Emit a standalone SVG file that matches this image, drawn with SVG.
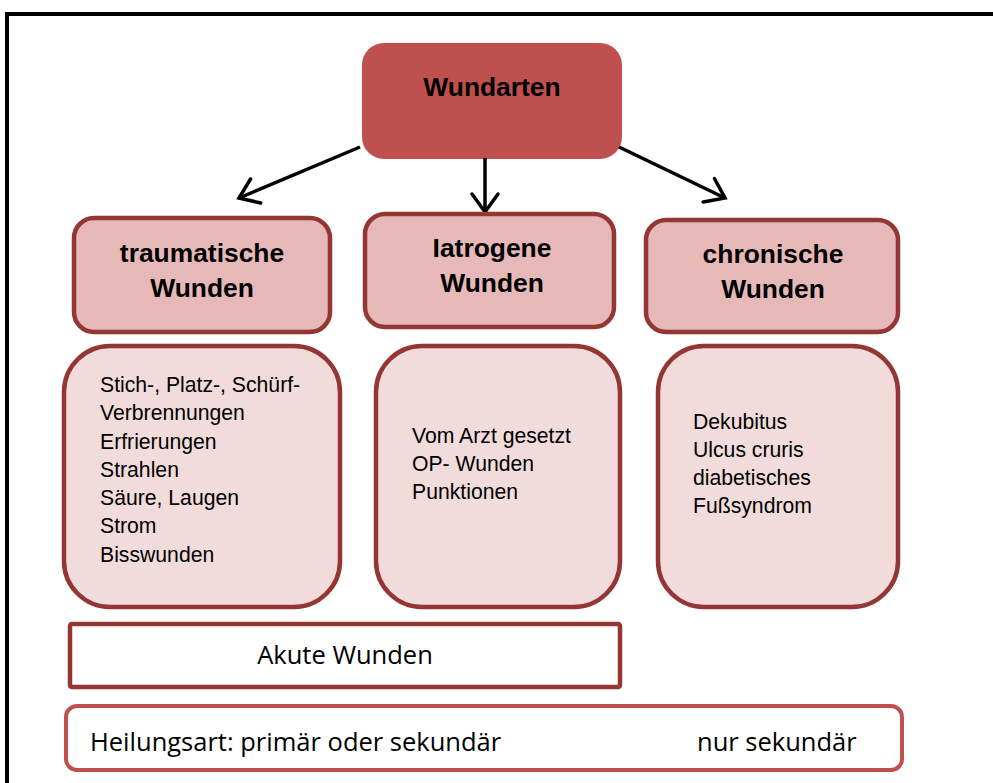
<svg xmlns="http://www.w3.org/2000/svg" width="993" height="783" viewBox="0 0 993 783">
<style>
.hdr{fill:#E6B9B8;stroke:#943634;stroke-width:4.5}
.lst{fill:#F2DCDB;stroke:#943634;stroke-width:4.5}
.bt{font-family:"Liberation Sans",Arial,sans-serif;font-weight:bold;font-size:26.4px;fill:#000;text-anchor:middle}
.rt{font-family:"Liberation Sans",Arial,sans-serif;font-size:21.2px;fill:#000}
.ct{font-family:"Open Sans","Noto Sans",sans-serif;font-size:25.5px;fill:#000}
.con{stroke:#000;stroke-width:3.5;fill:none}
</style>
<defs>
<marker id="ah" markerUnits="userSpaceOnUse" markerWidth="40" markerHeight="40" viewBox="-25 -20 40 40" refX="0" refY="0" orient="auto">
<path d="M-18,-13 L0,0 L-18,13" fill="none" stroke="#000" stroke-width="3.5" stroke-linecap="round" stroke-linejoin="miter"/>
</marker>
</defs>
<rect x="0" y="0" width="993" height="783" fill="#fff"/>
<rect id="frame" x="7" y="14" width="1000" height="800" fill="none" stroke="#000" stroke-width="4"/>

<g id="wundarten">
<rect x="362" y="43" width="260" height="116" rx="22" fill="#C0504D"/>
<text class="bt" x="492" y="96">Wundarten</text>
</g>

<g id="connectors">
<line class="con" x1="360" y1="147" x2="239" y2="198" marker-end="url(#ah)"/>
<line class="con" x1="485" y1="158" x2="485" y2="212" marker-end="url(#ah)"/>
<line class="con" x1="619" y1="147" x2="725" y2="198" marker-end="url(#ah)"/>
</g>

<g id="traumatische">
<rect class="hdr" x="74" y="218" width="256" height="114" rx="20"/>
<text class="bt" x="202" y="262">traumatische</text>
<text class="bt" x="202" y="297">Wunden</text>
</g>
<g id="iatrogene">
<rect class="hdr" x="365" y="214" width="249" height="113" rx="20"/>
<text class="bt" x="492" y="257">Iatrogene</text>
<text class="bt" x="492" y="292">Wunden</text>
</g>
<g id="chronische">
<rect class="hdr" x="646" y="220" width="252" height="112" rx="20"/>
<text class="bt" x="773" y="263">chronische</text>
<text class="bt" x="773" y="298">Wunden</text>
</g>

<g id="traumatische-liste">
<rect class="lst" x="64" y="346" width="276" height="261" rx="46"/>
<text class="rt" x="100" y="392">Stich-, Platz-, Schürf-</text>
<text class="rt" x="100" y="420">Verbrennungen</text>
<text class="rt" x="100" y="449">Erfrierungen</text>
<text class="rt" x="100" y="477">Strahlen</text>
<text class="rt" x="100" y="505">Säure, Laugen</text>
<text class="rt" x="100" y="533">Strom</text>
<text class="rt" x="100" y="562">Bisswunden</text>
</g>
<g id="iatrogene-liste">
<rect class="lst" x="376" y="346" width="244" height="261" rx="46"/>
<text class="rt" x="412" y="443">Vom Arzt gesetzt</text>
<text class="rt" x="412" y="471">OP- Wunden</text>
<text class="rt" x="412" y="499">Punktionen</text>
</g>
<g id="chronische-liste">
<rect class="lst" x="658" y="346" width="240" height="261" rx="46"/>
<text class="rt" x="693" y="429">Dekubitus</text>
<text class="rt" x="693" y="457">Ulcus cruris</text>
<text class="rt" x="693" y="485">diabetisches</text>
<text class="rt" x="693" y="513">Fußsyndrom</text>
</g>

<g id="akute">
<rect x="70" y="624" width="550" height="63" rx="2" fill="#fff" stroke="#943634" stroke-width="4.5"/>
<text class="ct" x="345" y="664" text-anchor="middle">Akute Wunden</text>
</g>
<g id="heilungsart">
<rect x="66" y="706" width="836" height="64" rx="11" fill="#fff" stroke="#C0504D" stroke-width="4"/>
<text class="ct" x="90" y="751">Heilungsart: primär oder sekundär</text>
<text class="ct" x="697" y="751">nur sekundär</text>
</g>
</svg>
